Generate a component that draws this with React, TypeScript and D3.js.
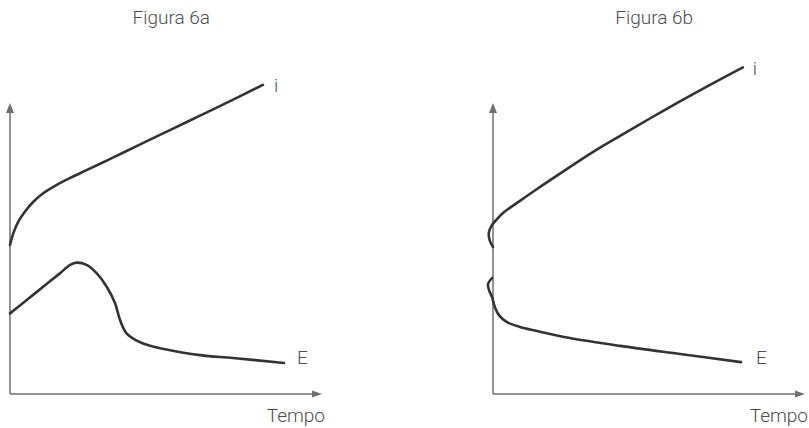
import React from "react";
import * as d3 from "d3";

// Curve samples: [tempo, valor] in arbitrary units (0–100 on each axis)
const iSeriesA: [number, number][] = [
  [0, 51.4], [1.06, 55.4], [2.68, 59.4], [4.84, 62.9], [7.52, 66.3], [10.7, 69.2],
  [15.1, 72.1], [19.4, 74.5], [24.7, 77.2], [31.2, 80.5], [37.6, 83.8], [43.0, 86.6],
  [51.6, 91.0], [61.3, 96.0], [71.0, 101.0], [81.6, 106.6],
];
const eSeriesA: [number, number][] = [
  [0, 27.8], [5.4, 32.4], [10.7, 37.0], [16.1, 41.6], [19.4, 44.5], [21.5, 45.3],
  [24.7, 44.5], [28.0, 41.6], [31.2, 37.0], [33.9, 31.3], [35.5, 25.5], [37.6, 20.9],
  [40.9, 18.4], [45.2, 16.6], [48.4, 15.8], [61.3, 13.4], [71.9, 12.4], [88.4, 10.7],
];
const iSeriesB: [number, number][] = [
  [0, 50.7], [-1.1, 53.1], [-1.3, 55.9], [-0.3, 58.3], [1.3, 60.3], [3.2, 62.4],
  [8.7, 66.6], [14.2, 70.7], [21.6, 76.0], [31.3, 82.8], [41.0, 89.0], [50.6, 95.0],
  [60.3, 100.9], [70.0, 106.6], [80.6, 112.6],
];
const eSeriesB: [number, number][] = [
  [-0.3, 40], [-1.6, 37.9], [-1.3, 35.9], [-0.3, 33.4], [0.6, 30], [1.9, 27.2],
  [4.5, 24.8], [8.7, 23.1], [14.2, 21.7], [24.8, 19.3], [41, 16.6],
  [60.3, 13.8], [80, 11],
];

const titles = ["Figura 6a", "Figura 6b"];
const seriesLabels = ["i", "E"];
const xAxisLabel = "Tempo";

const W = 809;
const H = 428;
const axisColor = "#6f6f6f";
const curveColor = "#333333";
const textColor = "#4d4d4d";
const font = "Roboto, 'Noto Sans', sans-serif";

type PanelProps = {
  x0: number;
  title: string;
  iData: [number, number][];
  eData: [number, number][];
  iOffset: [number, number];
  eOffset: [number, number];
};

function Panel({ x0, title, iData, eData, iOffset, eOffset }: PanelProps) {
  const x = d3.scaleLinear().domain([0, 100]).range([x0, x0 + 310]);
  const y = d3.scaleLinear().domain([0, 100]).range([394, 104]);
  const line = d3
    .line<[number, number]>()
    .x((d) => x(d[0]))
    .y((d) => y(d[1]))
    .curve(d3.curveCatmullRom.alpha(0.5));

  const ox = x(0);
  const oy = y(0);
  const yTop = 103;
  const xEnd = x0 + 312;
  const iLast = iData[iData.length - 1];
  const eLast = eData[eData.length - 1];

  const textProps = {
    fontFamily: font,
    fontWeight: 300,
    fontSize: 19,
    fill: textColor,
  };

  return (
    <g>
      <text x={x(52)} y={24} textAnchor="middle" {...textProps}>
        {title}
      </text>
      {/* axes */}
      <line x1={ox} y1={oy} x2={ox} y2={yTop + 8} stroke={axisColor} strokeWidth={1.5} />
      <path d={`M${ox},${yTop} L${ox - 4},${yTop + 10} L${ox + 4},${yTop + 10} Z`} fill={axisColor} />
      <line x1={ox} y1={oy} x2={xEnd - 8} y2={oy} stroke={axisColor} strokeWidth={1.5} />
      <path d={`M${xEnd},${oy} L${xEnd - 10},${oy - 3.5} L${xEnd - 10},${oy + 3.5} Z`} fill={axisColor} />
      <text x={xEnd + 3} y={422} textAnchor="end" {...textProps}>
        {xAxisLabel}
      </text>
      {/* curves */}
      <path d={line(iData) ?? ""} fill="none" stroke={curveColor} strokeWidth={2.6} strokeLinecap="round" />
      <path d={line(eData) ?? ""} fill="none" stroke={curveColor} strokeWidth={2.6} strokeLinecap="round" />
      <text x={x(iLast[0]) + iOffset[0]} y={y(iLast[1]) + iOffset[1]} {...textProps}>
        {seriesLabels[0]}
      </text>
      <text x={x(eLast[0]) + eOffset[0]} y={y(eLast[1]) + eOffset[1]} {...textProps}>
        {seriesLabels[1]}
      </text>
    </g>
  );
}

export default function App() {
  return (
    <svg width={W} height={H} style={{ position: "absolute", left: 0, top: 0, background: "#fff" }}>
      <Panel x0={10} title={titles[0]} iData={iSeriesA} eData={eSeriesA} iOffset={[11, 7]} eOffset={[13, 1]} />
      <Panel x0={493} title={titles[1]} iData={iSeriesB} eData={eSeriesB} iOffset={[10, 8]} eOffset={[15, 2]} />
    </svg>
  );
}
